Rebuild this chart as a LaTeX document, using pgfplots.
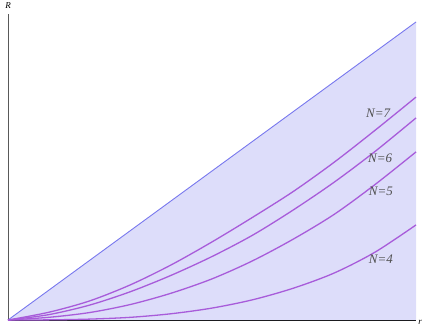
\documentclass[border=0pt]{standalone}
\usepackage{fontspec}
\setmainfont{Liberation Serif}
\usepackage{pgfplots}
\pgfplotsset{compat=1.18}
\definecolor{shade}{HTML}{DDDDFA}
\definecolor{edge}{HTML}{7878EE}
\definecolor{curve}{HTML}{A85CDA}
\definecolor{lbl}{HTML}{505050}
\tikzset{nlabel/.style={font=\fontsize{13}{15}\selectfont\itshape, text=lbl}}
\begin{document}
\begin{tikzpicture}
\path[use as bounding box] (-8pt,-7pt) rectangle (428pt,320pt);
\begin{axis}[
  scale only axis, width=408pt, height=306pt,
  xmin=0, xmax=1, ymin=0, ymax=1.0268,
  axis lines=left, axis line style={-},
  x axis line style={black, line width=0.8pt},
  y axis line style={black!65, line width=0.8pt},
  xtick=\empty, ytick=\empty,
  clip=false,
]
% shaded region below R = r
\addplot[fill=shade, draw=none] coordinates {(0,0) (1,1) (1,0)} \closedcycle;
\addplot[edge, line width=0.9pt] coordinates {(0,0) (1,1)};

% N = 7
\addplot[curve, line width=1.3pt, smooth] coordinates {
  (0,0) (0.1,0.026) (0.2,0.064) (0.3,0.118) (0.4,0.185) (0.5,0.262)
  (0.6,0.345) (0.7,0.432) (0.8,0.530) (0.9,0.637) (1,0.748)};
% N = 6
\addplot[curve, line width=1.3pt, smooth] coordinates {
  (0,0) (0.1,0.018) (0.2,0.050) (0.3,0.095) (0.4,0.150) (0.5,0.213)
  (0.6,0.285) (0.7,0.370) (0.8,0.463) (0.9,0.566) (1,0.678)};
% N = 5
\addplot[curve, line width=1.3pt, smooth] coordinates {
  (0,0) (0.1,0.009) (0.2,0.025) (0.3,0.052) (0.4,0.090) (0.5,0.138)
  (0.6,0.199) (0.7,0.272) (0.8,0.355) (0.9,0.455) (1,0.564)};
% N = 4
\addplot[curve, line width=1.3pt, smooth] coordinates {
  (0,0) (0.1,0.0005) (0.2,0.003) (0.3,0.009) (0.4,0.021) (0.5,0.040)
  (0.6,0.068) (0.7,0.107) (0.8,0.158) (0.9,0.228) (1,0.319)};

\node[nlabel] at (axis cs:0.907,0.695) {N=7};
\node[nlabel] at (axis cs:0.912,0.544) {N=6};
\node[nlabel] at (axis cs:0.914,0.433) {N=5};
\node[nlabel] at (axis cs:0.914,0.205) {N=4};
\node[font=\fontsize{9}{10}\selectfont\itshape, text=black] at (axis cs:0,1.054) {R};
\node[font=\fontsize{9}{10}\selectfont\itshape, text=black] at (axis cs:1.01,-0.007) {r};
\end{axis}
\end{tikzpicture}
\end{document}
